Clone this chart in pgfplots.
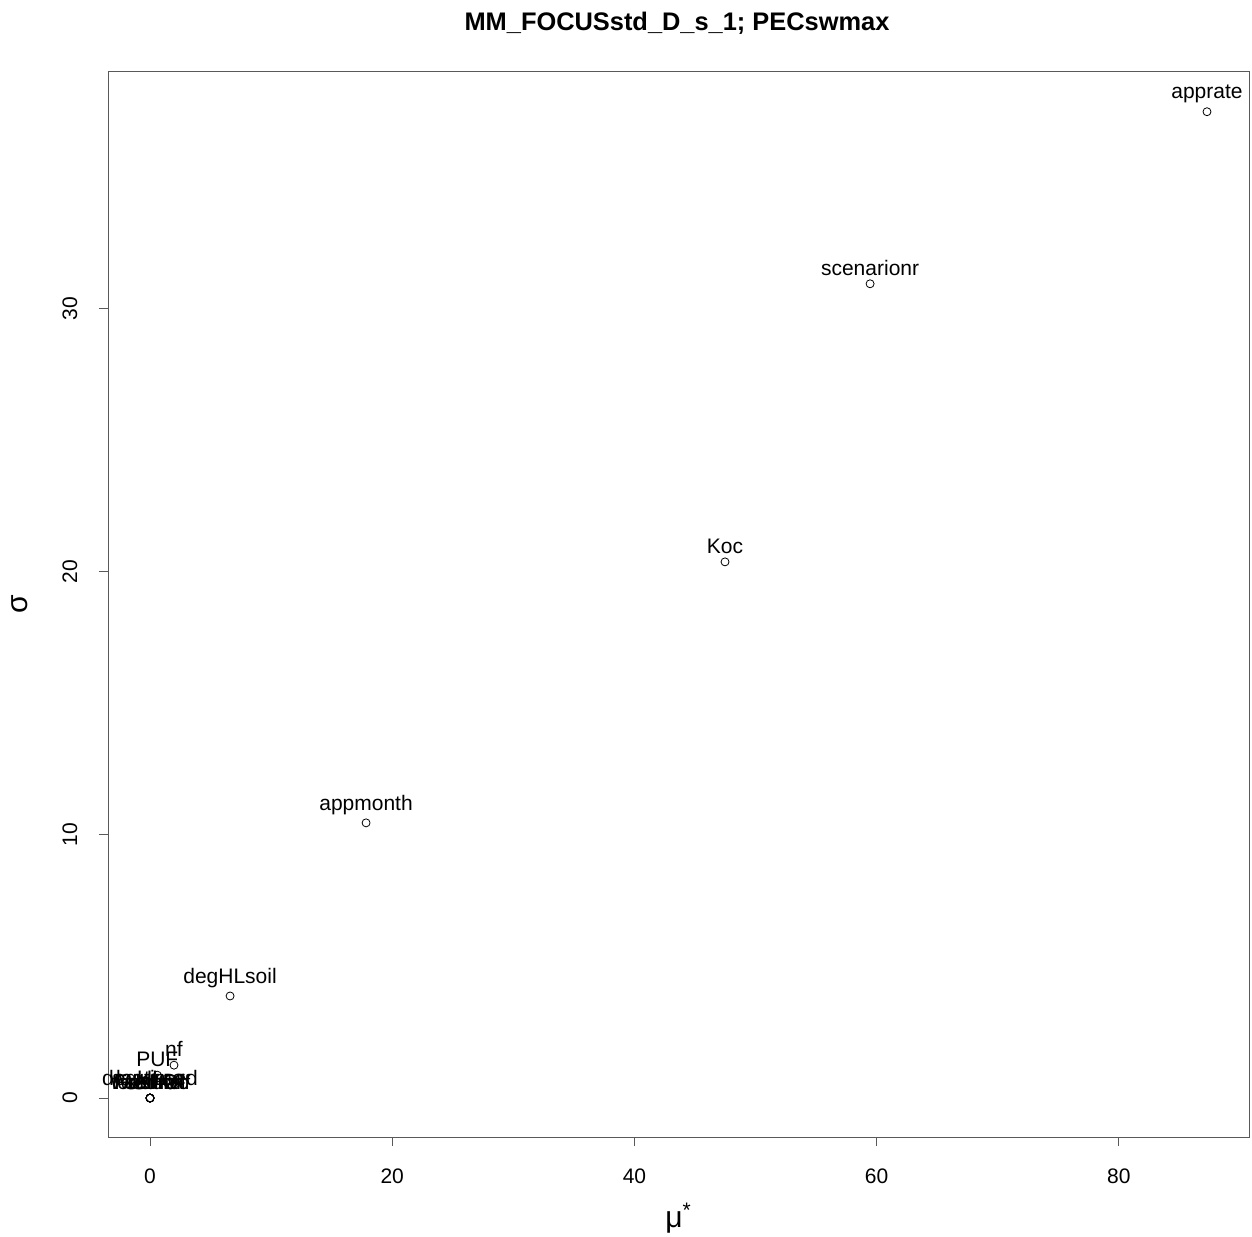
\documentclass[border=0pt]{standalone}
\usepackage{fontspec}
\setmainfont{Liberation Sans}
\usepackage{pgfplots}
\pgfplotsset{compat=1.18}
\usepackage{pgfplotstable}
\pgfplotstableread{
x y label
87.28 37.49 apprate
59.46 30.95 scenarionr
47.48 20.38 Koc
17.84 10.46 appmonth
6.61 3.88 degHLsoil
1.98 1.25 nf
0.60 0.87 PUF
0.00 0.00 formfrac
0.00 0.00 lagtime
0.00 0.00 degHLsed
0.00 0.00 WashOff
0.00 0.00 KH
0.00 0.00 solub
0.00 0.00 Freundl
}\pts
\begin{document}
\begin{tikzpicture}
\useasboundingbox (0,0) rectangle (626bp,618.5bp);
\begin{axis}[
  at={(54bp,50bp)}, anchor=south west,
  scale only axis, width=570.5bp, height=532.5bp,
  xmin=-3.47, xmax=90.75, ymin=-1.48, ymax=39.0,
  axis line style={black!65, line width=0.5pt},
  xtick={0,20,40,60,80}, ytick={0,10,20,30},
  tick align=outside, major tick length=4.5bp,
  xtick pos=left, ytick pos=left,
  tick style={black!65, line width=0.5pt},
  every tick label/.append style={font=\fontsize{10.5bp}{12bp}\selectfont},
  /pgf/number format/assume math mode=true,
  xticklabel style={anchor=center, yshift=-15bp},
  yticklabel style={xshift=-14.5bp, rotate=90, anchor=center},
  xlabel={μ\textsuperscript{*}},
  ylabel={σ},
  xlabel style={at={(axis description cs:0.5,-0.076)}, anchor=center, font=\fontsize{15bp}{17bp}\selectfont},
  ylabel style={at={(axis description cs:-0.0771,0.5)}, anchor=center, rotate=0, font=\fontsize{15bp}{17bp}\selectfont},
  clip=false,
]
\addplot[only marks, mark=o, mark size=2bp, black, mark options={line width=0.4pt},
  nodes near coords, point meta=explicit symbolic,
  every node near coord/.append style={anchor=south, inner sep=0pt, yshift=4bp, font=\fontsize{10.5bp}{12bp}\selectfont, black}]
  table[x=x, y=y, meta=label] {\pts};
\end{axis}
\node[anchor=base, font=\bfseries\fontsize{12.7bp}{14bp}\selectfont] at (338.5bp,603bp) {MM\_FOCUSstd\_D\_s\_1; PECswmax};
\end{tikzpicture}
\end{document}
